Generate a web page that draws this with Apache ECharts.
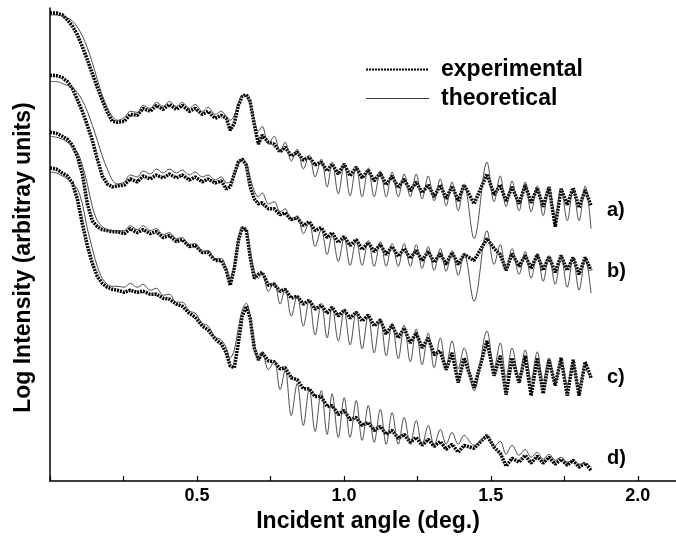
<!DOCTYPE html>
<html>
<head>
<meta charset="utf-8">
<title>Reflectivity curves</title>
<script src="https://cdn.jsdelivr.net/npm/echarts@6/dist/echarts.min.js"></script>
<style>
  html, body { margin: 0; padding: 0; background: #fff; }
  #chart { width: 676px; height: 538px; }
</style>
</head>
<body>
<div id="chart"></div>
<script>
// incident angle (deg.), shared by every curve; from 0.72 on the points sit on fringe peaks / troughs
const angles = [
  0, 0.021, 0.042, 0.059, 0.076, 0.093, 0.110, 0.127, 0.144, 0.161, 0.178, 0.195, 0.212, 0.229,
  0.253, 0.273, 0.297, 0.317, 0.341, 0.362, 0.385, 0.406, 0.430, 0.450, 0.474, 0.494, 0.518, 0.538,
  0.562, 0.583, 0.600, 0.613, 0.627, 0.641, 0.654, 0.668, 0.681, 0.695, 0.709,
  0.722, 0.743, 0.763, 0.783, 0.800, 0.821, 0.841, 0.862, 0.882, 0.902, 0.923, 0.943, 0.960, 0.981,
  1.001, 1.021, 1.042, 1.062, 1.083, 1.103, 1.124, 1.144, 1.164, 1.185, 1.205, 1.226, 1.246, 1.266,
  1.287, 1.307, 1.328, 1.348, 1.368, 1.389, 1.409, 1.443, 1.487, 1.511, 1.532, 1.552, 1.572, 1.596,
  1.617, 1.637, 1.658, 1.678, 1.698, 1.719, 1.739, 1.760, 1.780, 1.800, 1.821, 1.841
]

// log intensity, arbitrary units (curves are offset vertically)
const expA = [
  487, 487, 485, 480, 474, 465, 453, 440, 426, 412, 399, 387, 378, 377,
  378, 385, 384, 391, 388, 394, 390, 395, 390, 394, 388, 391, 385, 388, 381, 384,
  381, 369, 376, 394, 403, 405, 398, 375, 355,
  364, 357, 355, 347, 352, 343, 347, 339, 342, 334, 337, 328, 335, 325, 335, 323, 332, 321,
  329, 318, 326, 314, 323, 311, 320, 308, 317, 306, 314, 302, 314, 300, 313, 298, 314, 295,
  325, 304, 314, 297, 312, 295, 314, 296, 311, 292, 312, 272, 310, 294, 311, 291, 309, 293
]
const theoA = [
  485, 485, 484, 482, 479, 473, 464, 452, 437, 420, 404, 392, 383, 379,
  382, 388, 387, 394, 391, 397, 393, 398, 393, 397, 391, 395, 388, 392, 385, 388,
  383, 379, 384, 396, 404, 404, 395, 380, 368,
  373, 355, 363, 347, 357, 338, 350, 330, 344, 322, 340, 312, 337, 305, 335, 303, 333, 302,
  331, 302, 328, 302, 327, 302, 325, 302, 325, 300, 323, 298, 320, 293, 317, 288, 315, 260,
  337, 297, 323, 292, 318, 288, 317, 287, 313, 283, 312, 282, 310, 278, 310, 278, 313, 270
]
const expB = [
  424, 424, 422, 418, 411, 400, 388, 374, 359, 340, 323, 315, 312, 313,
  314, 320, 317, 323, 320, 324, 321, 325, 321, 324, 319, 322, 317, 320, 316, 318,
  310, 312, 325, 337, 340, 334, 312, 300, 295,
  296, 290, 290, 284, 286, 279, 281, 273, 277, 268, 271, 261, 266, 256, 262, 253, 259, 249,
  256, 247, 254, 244, 252, 242, 250, 240, 248, 238, 247, 236, 245, 234, 246, 234, 244, 238,
  260, 250, 244, 228, 245, 232, 243, 230, 244, 228, 242, 226, 243, 228, 241, 224, 241, 228
]
const theoB = [
  418, 418, 416, 414, 412, 407, 399, 388, 374, 359, 343, 330, 319, 315,
  317, 324, 322, 328, 325, 330, 326, 330, 326, 329, 324, 327, 322, 324, 319, 322,
  316, 317, 324, 335, 340, 336, 322, 308, 302,
  306, 295, 297, 287, 290, 278, 283, 265, 276, 252, 269, 244, 264, 237, 261, 233, 258, 233,
  258, 232, 257, 232, 255, 232, 255, 232, 254, 230, 252, 228, 250, 227, 248, 223, 245, 197,
  268, 234, 254, 228, 250, 224, 247, 220, 245, 217, 243, 214, 242, 211, 241, 208, 240, 205
]
const expC = [
  367, 366, 363, 360, 354, 343, 325, 295, 278, 272, 269, 268, 267, 267,
  265, 270, 266, 269, 265, 267, 261, 263, 257, 259, 252, 253, 246, 246, 238, 238,
  228, 213, 230, 258, 271, 269, 242, 220, 224,
  226, 213, 214, 207, 209, 200, 202, 194, 198, 189, 193, 185, 191, 182, 188, 180, 186, 177,
  183, 172, 178, 164, 173, 160, 170, 155, 165, 150, 160, 143, 147, 128, 145, 115, 140, 110,
  157, 122, 142, 103, 140, 115, 142, 102, 140, 104, 138, 112, 140, 102, 138, 102, 136, 120
]
const theoC = [
  363, 362, 360, 357, 353, 347, 334, 315, 292, 278, 272, 269, 268, 268,
  268, 273, 269, 273, 268, 270, 264, 266, 260, 261, 254, 255, 247, 248, 240, 240,
  230, 220, 234, 260, 271, 270, 248, 228, 220,
  226, 207, 216, 194, 210, 182, 203, 172, 199, 163, 195, 160, 192, 157, 188, 153, 187, 149,
  183, 145, 180, 142, 175, 139, 173, 136, 169, 133, 165, 130, 160, 132, 157, 129, 150, 107,
  167, 130, 155, 120, 150, 120, 148, 118, 146, 117, 140, 115, 137, 113, 135, 112, 128, 120
]
const expD = [
  331, 330, 326, 323, 316, 300, 275, 253, 235, 222, 215, 211, 209, 208,
  206, 208, 206, 207, 204, 204, 200, 199, 194, 192, 185, 181, 172, 168, 159, 154,
  145, 132, 130, 155, 182, 192, 180, 150, 138,
  145, 137, 136, 129, 130, 120, 118, 109, 109, 101, 101, 91, 92, 83, 87, 78, 80, 72,
  75, 67, 71, 63, 67, 59, 63, 55, 60, 52, 58, 51, 56, 48, 53, 45, 52, 49,
  62, 50, 44, 31, 39, 35, 42, 34, 41, 34, 40, 33, 38, 32, 37, 30, 34, 27
]
const theoD = [
  327, 326, 323, 320, 315, 310, 295, 270, 250, 232, 220, 214, 212, 212,
  211, 215, 211, 214, 208, 210, 203, 204, 196, 196, 187, 185, 175, 172, 161, 158,
  150, 140, 148, 170, 188, 195, 182, 155, 138,
  146, 128, 137, 108, 128, 82, 114, 72, 109, 66, 107, 63, 104, 60, 100, 60, 97, 57,
  92, 55, 88, 53, 85, 53, 80, 53, 77, 52, 72, 52, 68, 53, 65, 53, 62, 52,
  62, 51, 56, 43, 52, 42, 48, 40, 45, 38, 43, 37, 40, 35, 37, 33, 34, 30
]

const curveLabels = ['a)', 'b)', 'c)', 'd)']
const xTickLabels = ['0.5', '1.0', '1.5', '2.0']

const FONT = '"Liberation Sans", Arial, Helvetica, sans-serif'

const pairs = ys => angles.map((a, i) => [a, ys[i]])

const expSeries = ys => ({
  name: 'experimental',
  type: 'line',
  data: pairs(ys),
  symbol: 'none',
  lineStyle: { color: '#000', width: 3.5, type: [2, 1] },
  z: 2
})

const theoSeries = ys => ({
  name: 'theoretical',
  type: 'line',
  data: pairs(ys),
  symbol: 'none',
  smooth: 0.35,
  lineStyle: { color: '#3a3a3a', width: 0.9 },
  z: 3
})

const chart = echarts.init(document.getElementById('chart'), null, { renderer: 'canvas' })

// curve labels sit right of the curve ends
const labelTops = [200, 261, 367, 448]

const option = {
  animation: false,
  backgroundColor: '#fff',
  grid: { left: 50, right: 0, top: 8, bottom: 54 },
  legend: {
    orient: 'vertical',
    left: 365,
    top: 58,
    padding: 0,
    itemWidth: 63,
    itemHeight: 14,
    itemGap: 6,
    textStyle: {
      fontFamily: FONT, fontWeight: 'bold', fontSize: 23, color: '#000',
      lineHeight: 22, padding: [0, 0, 0, 7]
    },
    data: [
      {
        name: 'experimental',
        itemStyle: { opacity: 0 },
        lineStyle: { color: '#000', width: 2, type: [2, 1] }
      },
      {
        name: 'theoretical',
        itemStyle: { opacity: 0 },
        lineStyle: { color: '#3a3a3a', width: 1 }
      }
    ]
  },
  xAxis: {
    type: 'value',
    min: 0,
    max: 2.13,
    interval: 0.25,
    name: 'Incident angle (deg.)',
    nameLocation: 'middle',
    nameGap: 14,
    nameTextStyle: { fontFamily: FONT, fontWeight: 'bold', fontSize: 23, color: '#000', padding: [0, 0, 0, 10] },
    axisLine: { lineStyle: { color: '#000', width: 1.5 } },
    axisTick: { inside: true, length: 5, lineStyle: { color: '#000', width: 1.2 } },
    axisLabel: {
      fontFamily: FONT,
      fontWeight: 'bold',
      fontSize: 18,
      color: '#000',
      margin: 6,
      showMaxLabel: false,
      formatter: v => {
        const s = v.toFixed(1)
        return xTickLabels.includes(s) && Math.abs(v * 2 - Math.round(v * 2)) < 1e-6 ? s : ''
      }
    },
    splitLine: { show: false }
  },
  yAxis: {
    type: 'value',
    min: 16,
    max: 492,
    name: 'Log Intensity (arbitray units)',
    nameLocation: 'middle',
    nameGap: 15,
    nameTextStyle: { fontFamily: FONT, fontWeight: 'bold', fontSize: 23, color: '#000', padding: [0, 26, 0, 0] },
    axisLine: { show: true, lineStyle: { color: '#000', width: 1.5 } },
    axisTick: { show: false },
    axisLabel: { show: false },
    splitLine: { show: false }
  },
  graphic: curveLabels.map((t, i) => ({
    type: 'text',
    left: 607,
    top: labelTops[i],
    style: { text: t, fontFamily: FONT, fontWeight: 'bold', fontSize: 20, fill: '#000' }
  })),
  series: [
    expSeries(expA), theoSeries(theoA),
    expSeries(expB), theoSeries(theoB),
    expSeries(expC), theoSeries(theoC),
    expSeries(expD), theoSeries(theoD)
  ]
}

chart.setOption(option)
</script>
</body>
</html>
